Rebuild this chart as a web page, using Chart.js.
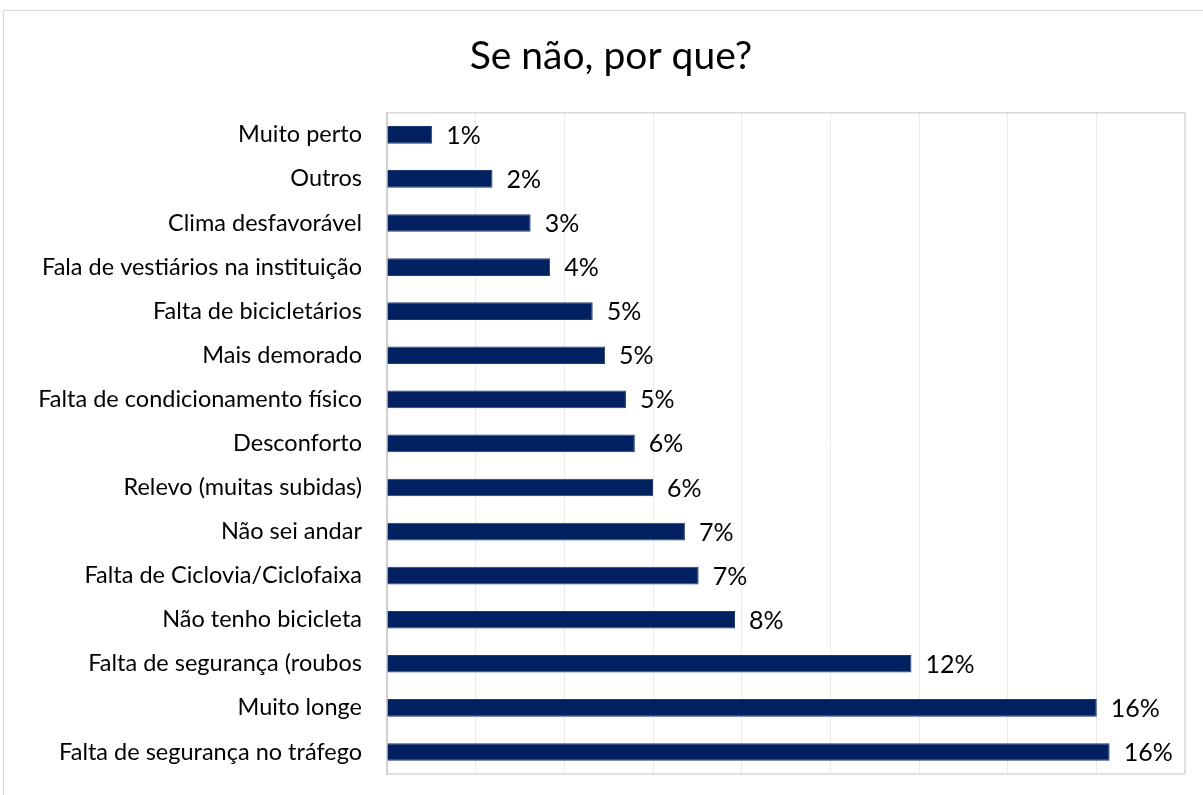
<!DOCTYPE html>
<html>
<head>
<meta charset="utf-8">
<script src="https://cdn.jsdelivr.net/npm/chart.js@4/dist/chart.umd.min.js"></script>
<style>
  html, body { margin: 0; padding: 0; background: #fff; overflow: hidden; }
  #wrap { position: relative; width: 1203px; height: 795px; }
  #frame { position: absolute; left: 3px; top: 10px; width: 1300px; height: 900px; border: 1.5px solid #d9d9d9; box-sizing: border-box; }
  canvas { position: absolute; left: 0; top: 0; }
</style>
</head>
<body>
<div id="wrap">
  <div id="frame"></div>
  <canvas id="c" width="1203" height="795"></canvas>
</div>
<script>
const titleText = "Se não, por que?";
const categories = [
  "Muito perto",
  "Outros",
  "Clima desfavorável",
  "Fala de vestiários na instituição",
  "Falta de bicicletários",
  "Mais demorado",
  "Falta de condicionamento físico",
  "Desconforto",
  "Relevo (muitas subidas)",
  "Não sei andar",
  "Falta de Ciclovia/Ciclofaixa",
  "Não tenho bicicleta",
  "Falta de segurança (roubos",
  "Muito longe",
  "Falta de segurança no tráfego"
];
const values = [1.02, 2.38, 3.24, 3.68, 4.64, 4.92, 5.39, 5.59, 6.0, 6.72, 7.03, 7.85, 11.83, 16.01, 16.30];
const axisMin = 0;
const axisMax = 18;
const axisStep = 2;

const FONT = "Lato, 'Open Sans', sans-serif";

const plotBorder = {
  id: 'plotBorder',
  beforeDatasetsDraw(chart) {
    const a = chart.chartArea, ctx = chart.ctx;
    ctx.save();
    ctx.strokeStyle = '#d9d9d9';
    ctx.lineWidth = 1.5;
    ctx.strokeRect(a.left, a.top, a.right - a.left, a.bottom - a.top);
    ctx.restore();
  }
};

const valueLabels = {
  id: 'valueLabels',
  afterDatasetsDraw(chart) {
    const ctx = chart.ctx;
    const meta = chart.getDatasetMeta(0);
    ctx.save();
    ctx.font = "25px " + FONT;
    ctx.fillStyle = '#000';
    ctx.textAlign = 'left';
    ctx.textBaseline = 'middle';
    meta.data.forEach((bar, i) => {
      ctx.fillText(Math.round(values[i]) + '%', bar.x + 14, bar.y + 1);
    });
    ctx.restore();
  }
};

new Chart(document.getElementById('c'), {
  type: 'bar',
  data: {
    labels: categories,
    datasets: [{
      data: values,
      backgroundColor: '#002060',
      borderColor: '#1f3a72',
      borderWidth: 1,
      barPercentage: 0.4,
      categoryPercentage: 1.0
    }]
  },
  options: {
    indexAxis: 'y',
    responsive: false,
    animation: false,
    devicePixelRatio: 1,
    layout: { padding: { left: 37, right: 18, top: 0, bottom: 21 } },
    plugins: {
      legend: { display: false },
      tooltip: { enabled: false },
      title: {
        display: true,
        text: titleText,
        color: '#000',
        font: { family: FONT, size: 39, weight: 'normal' },
        padding: { top: 33, bottom: 33 }
      }
    },
    scales: {
      x: {
        min: axisMin,
        max: axisMax,
        ticks: { display: false, stepSize: axisStep },
        grid: { color: '#ebebeb', lineWidth: 1, drawTicks: false },
        border: { display: false }
      },
      y: {
        ticks: {
          color: '#000',
          font: { family: FONT, size: 23.5 },
          padding: 25,
          autoSkip: false
        },
        grid: { display: false, drawTicks: false },
        border: { display: true, color: '#b0b0b0', width: 2 },
        afterFit(scale) {
          scale.width = 350;
          scale.paddingTop = 0;
          scale.paddingBottom = 0;
        }
      }
    }
  },
  plugins: [plotBorder, valueLabels]
});
</script>
</body>
</html>
